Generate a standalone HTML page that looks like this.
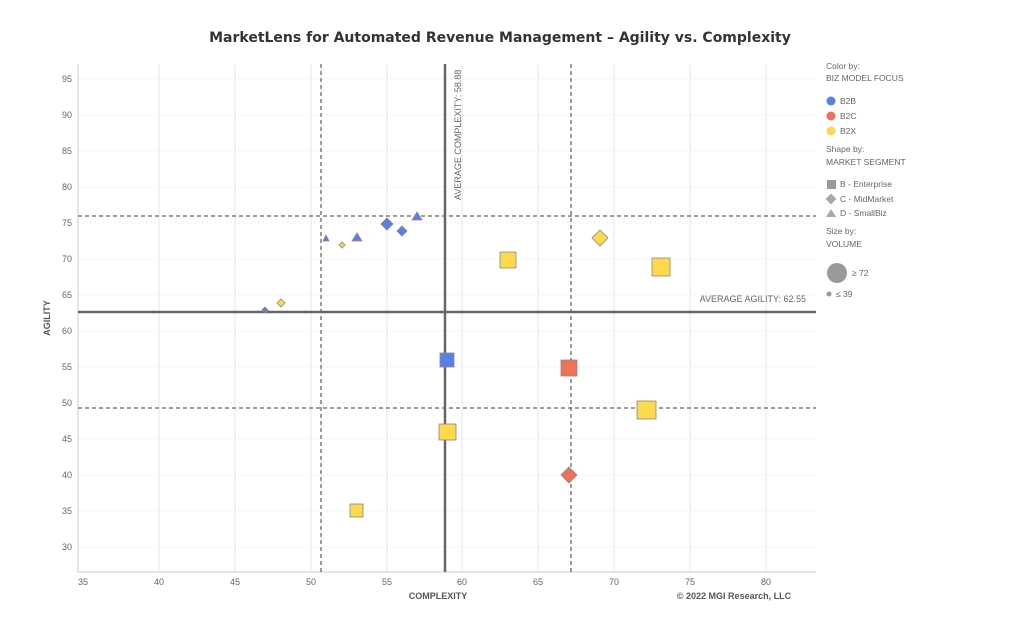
<!DOCTYPE html><html><head><style>body{margin:0;background:#fff}svg{font-family:"Liberation Sans",sans-serif}</style></head><body>
<svg width="1024" height="622" xmlns="http://www.w3.org/2000/svg">
<text x="500" y="42" text-anchor="middle" font-size="14" font-weight="bold" fill="#333" font-family="DejaVu Sans, sans-serif">MarketLens for Automated Revenue Management – Agility vs. Complexity</text>
<g stroke="#e6e6e6" stroke-width="1">
<line x1="159" y1="64" x2="159" y2="572"/><line x1="235" y1="64" x2="235" y2="572"/><line x1="311" y1="64" x2="311" y2="572"/><line x1="387" y1="64" x2="387" y2="572"/><line x1="462" y1="64" x2="462" y2="572"/><line x1="538" y1="64" x2="538" y2="572"/><line x1="614" y1="64" x2="614" y2="572"/><line x1="690" y1="64" x2="690" y2="572"/><line x1="766" y1="64" x2="766" y2="572"/>
</g>
<g stroke="#ececec" stroke-dasharray="2,2">
<line x1="78" y1="79" x2="816" y2="79"/><line x1="78" y1="115" x2="816" y2="115"/><line x1="78" y1="151" x2="816" y2="151"/><line x1="78" y1="187" x2="816" y2="187"/><line x1="78" y1="223" x2="816" y2="223"/><line x1="78" y1="259" x2="816" y2="259"/><line x1="78" y1="295" x2="816" y2="295"/><line x1="78" y1="331" x2="816" y2="331"/><line x1="78" y1="367" x2="816" y2="367"/><line x1="78" y1="403" x2="816" y2="403"/><line x1="78" y1="439" x2="816" y2="439"/><line x1="78" y1="475" x2="816" y2="475"/><line x1="78" y1="511" x2="816" y2="511"/><line x1="78" y1="547" x2="816" y2="547"/>
</g>
<line x1="78" y1="64" x2="78" y2="572" stroke="#ccc"/><line x1="78" y1="572" x2="816" y2="572" stroke="#ccc"/>
<g font-size="9" fill="#666" text-anchor="end">
<text x="72" y="82">95</text><text x="72" y="118">90</text><text x="72" y="154">85</text><text x="72" y="190">80</text><text x="72" y="226">75</text><text x="72" y="262">70</text><text x="72" y="298">65</text><text x="72" y="334">60</text><text x="72" y="370">55</text><text x="72" y="406">50</text><text x="72" y="442">45</text><text x="72" y="478">40</text><text x="72" y="514">35</text><text x="72" y="550">30</text>
</g>
<g font-size="9" fill="#666" text-anchor="middle">
<text x="83" y="585">35</text><text x="159" y="585">40</text><text x="235" y="585">45</text><text x="311" y="585">50</text><text x="387" y="585">55</text><text x="462" y="585">60</text><text x="538" y="585">65</text><text x="614" y="585">70</text><text x="690" y="585">75</text><text x="766" y="585">80</text>
</g>
<text x="438" y="599" text-anchor="middle" font-size="9" font-weight="bold" fill="#555">COMPLEXITY</text>
<text x="734" y="599" text-anchor="middle" font-size="9" font-weight="bold" fill="#555">© 2022 MGI Research, LLC</text>
<text transform="translate(50,318) rotate(-90)" text-anchor="middle" font-size="9" font-weight="bold" fill="#555">AGILITY</text>
<g stroke="#666" stroke-width="1.3" stroke-dasharray="4,3">
<line x1="321" y1="64" x2="321" y2="572"/><line x1="571" y1="64" x2="571" y2="572"/>
<line x1="78" y1="216" x2="816" y2="216"/><line x1="78" y1="408" x2="816" y2="408"/>
</g>
<line x1="445" y1="64" x2="445" y2="572" stroke="#666" stroke-width="2.5"/>
<line x1="78" y1="312" x2="816" y2="312" stroke="#666" stroke-width="2.5"/>
<text transform="translate(461,200) rotate(-90)" font-size="9" fill="#666">AVERAGE COMPLEXITY: 58.88</text>
<text x="806" y="302" text-anchor="end" font-size="9" fill="#666">AVERAGE AGILITY: 62.55</text>
<g stroke="#888" stroke-width="0.8">
<!-- B2B -->
<polygon points="265,307 268,310 265,313 262,310" fill="#5b7fe8"/>
<polygon points="281,299 285,303 281,307 277,303" fill="#fdd94e"/>
<polygon points="326,235 329,241 323,241" fill="#5b7fe8"/>
<polygon points="342,242 345,245 342,248 339,245" fill="#fdd94e"/>
<polygon points="357,233 362,241 352,241" fill="#5b7fe8"/>
<polygon points="387,218 393,224 387,230 381,224" fill="#5b7fe8"/>
<polygon points="402,226 407,231 402,236 397,231" fill="#5b7fe8"/>
<polygon points="417,212 422,220 412,220" fill="#5b7fe8"/>
<rect x="440" y="353" width="14" height="14" fill="#5b7fe8"/>
<rect x="500" y="252" width="16" height="16" fill="#fdd94e"/>
<polygon points="600,230 608,238 600,246 592,238" fill="#fdd94e"/>
<rect x="652" y="258" width="18" height="18" fill="#fdd94e"/>
<rect x="561" y="360" width="16" height="16" fill="#f0715a"/>
<rect x="637" y="401" width="19" height="18" fill="#fdd94e"/>
<rect x="439" y="424" width="17" height="16" fill="#fdd94e"/>
<polygon points="569,467 577,475 569,483 561,475" fill="#f0715a"/>
<rect x="350" y="504" width="13" height="13" fill="#fdd94e"/>
</g>
<g font-size="8.5" fill="#666">
<text x="826" y="69">Color by:</text><text x="826" y="81">BIZ MODEL FOCUS</text>
<circle cx="831" cy="101" r="4.5" fill="#5b7fe8"/><text x="840" y="104">B2B</text>
<circle cx="831" cy="116" r="4.5" fill="#f0715a"/><text x="840" y="119">B2C</text>
<circle cx="831" cy="131" r="4.5" fill="#fdd94e"/><text x="840" y="134">B2X</text>
<text x="826" y="152">Shape by:</text><text x="826" y="165">MARKET SEGMENT</text>
<rect x="827" y="180" width="9" height="9" fill="#999"/><text x="840" y="187">B - Enterprise</text>
<polygon points="831,194 836,199 831,204 826,199" fill="#aaa" stroke="#888" stroke-width="0.5"/><text x="840" y="202">C - MidMarket</text>
<polygon points="831,209 836,217 826,217" fill="#aaa"/><text x="840" y="216">D - SmallBiz</text>
<text x="826" y="234">Size by:</text><text x="826" y="247">VOLUME</text>
<circle cx="837" cy="273" r="10" fill="#999"/><text x="852" y="276">≥ 72</text>
<circle cx="829" cy="294" r="2.5" fill="#999"/><text x="836" y="297">≤ 39</text>
</g>
</svg></body></html>
